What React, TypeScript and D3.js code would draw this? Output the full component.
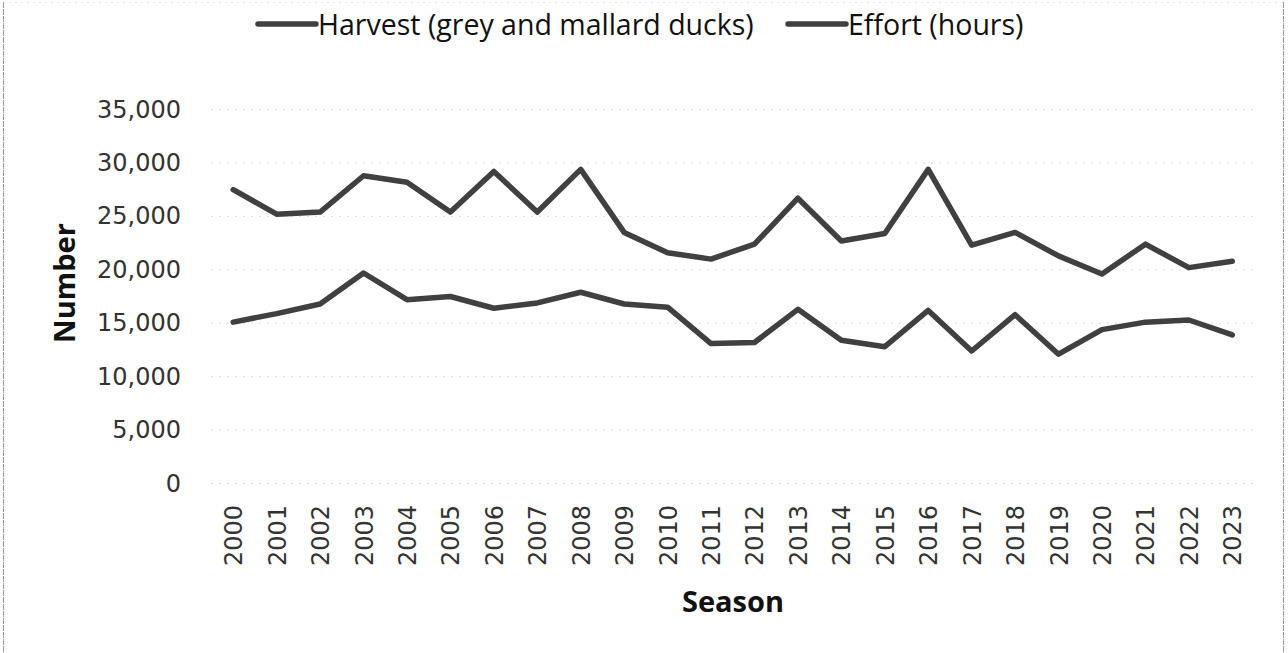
import React from "react";
import * as d3 from "d3";

const seasons = [2000,2001,2002,2003,2004,2005,2006,2007,2008,2009,2010,2011,2012,2013,2014,2015,2016,2017,2018,2019,2020,2021,2022,2023];
const harvest = [15100,15900,16800,19700,17200,17500,16400,16900,17900,16800,16500,13100,13200,16300,13400,12800,16200,12400,15800,12100,14400,15100,15300,13900];
const effort = [27500,25200,25400,28800,28200,25400,29200,25400,29400,23500,21600,21000,22400,26700,22700,23400,29400,22300,23500,21300,19600,22400,20200,20800];
const yTicks = [0,5000,10000,15000,20000,25000,30000,35000];
const seriesNames = ["Harvest (grey and mallard ducks)", "Effort (hours)"];

const W = 1288, H = 653;
const plot = { left: 211.5, right: 1254, top: 109.5, bottom: 483.5 };
const LINE = "#404040";
const TICK_FONT = "'DejaVu Sans', Verdana, sans-serif";
const TITLE_FONT = "'Open Sans', 'Noto Sans', sans-serif";

export default function App() {
  const x = d3.scaleBand<number>().domain(seasons).range([plot.left, plot.right]).paddingInner(0).paddingOuter(0);
  const cx = (s: number) => (x(s) as number) + x.bandwidth() / 2;
  const y = d3.scaleLinear().domain([0, 35000]).range([plot.bottom, plot.top]);
  const fmt = d3.format(",");
  const line = d3.line<number>().x((_, i) => cx(seasons[i])).y((v) => y(v));
  const series = [harvest, effort];
  const legendX = [258, 788];

  return (
    <svg width={W} height={H} style={{ position: "absolute", left: 0, top: 0, background: "#fff" }}>
      {/* outer chart border */}
      <line x1={3.5} x2={3.5} y1={2} y2={H} stroke="#9a9a9a" strokeWidth={1} strokeDasharray="6 1" />
      <line x1={1283.5} x2={1283.5} y1={2} y2={H} stroke="#9a9a9a" strokeWidth={1} strokeDasharray="6 1" />
      <line x1={3.5} x2={1283.5} y1={2.5} y2={2.5} stroke="#c8c8c8" strokeWidth={1} strokeDasharray="1 5" />

      {/* gridlines */}
      {yTicks.map((t) => (
        <line key={"g" + t} x1={plot.left} x2={plot.right} y1={y(t)} y2={y(t)} stroke="#b8b8b8" strokeWidth={1} strokeDasharray="1 7" />
      ))}

      {/* y tick labels */}
      {yTicks.map((t) => (
        <text key={"yt" + t} x={181} y={y(t)} textAnchor="end" dominantBaseline="central" fontFamily={TICK_FONT} fontSize={24} fill="#333">
          {fmt(t)}
        </text>
      ))}

      {/* x tick labels */}
      {seasons.map((s) => (
        <text key={"xt" + s} transform={`translate(${cx(s) + 1},505) rotate(-90)`} textAnchor="end" dominantBaseline="central" fontFamily={TICK_FONT} fontSize={24} fill="#333">
          {s}
        </text>
      ))}

      {/* series lines */}
      {series.map((d, i) => (
        <path key={"s" + i} d={line(d) as string} fill="none" stroke={LINE} strokeWidth={5.5} strokeLinejoin="round" strokeLinecap="round" />
      ))}

      {/* axis titles */}
      <text transform={`translate(63,283) rotate(-90)`} textAnchor="middle" dominantBaseline="central" fontFamily={TITLE_FONT} fontWeight="bold" fontSize={29} fill="#111">
        Number
      </text>
      <text x={733} y={612} textAnchor="middle" fontFamily={TITLE_FONT} fontWeight="bold" fontSize={29} fill="#111">
        Season
      </text>

      {/* legend */}
      {seriesNames.map((n, i) => (
        <g key={"l" + i}>
          <line x1={legendX[i]} x2={legendX[i] + 58} y1={24} y2={24} stroke={LINE} strokeWidth={5.5} strokeLinecap="round" />
          <text x={legendX[i] + 60} y={24} dominantBaseline="central" fontFamily={TITLE_FONT} fontSize={28.5} fill="#111">
            {n}
          </text>
        </g>
      ))}
    </svg>
  );
}
